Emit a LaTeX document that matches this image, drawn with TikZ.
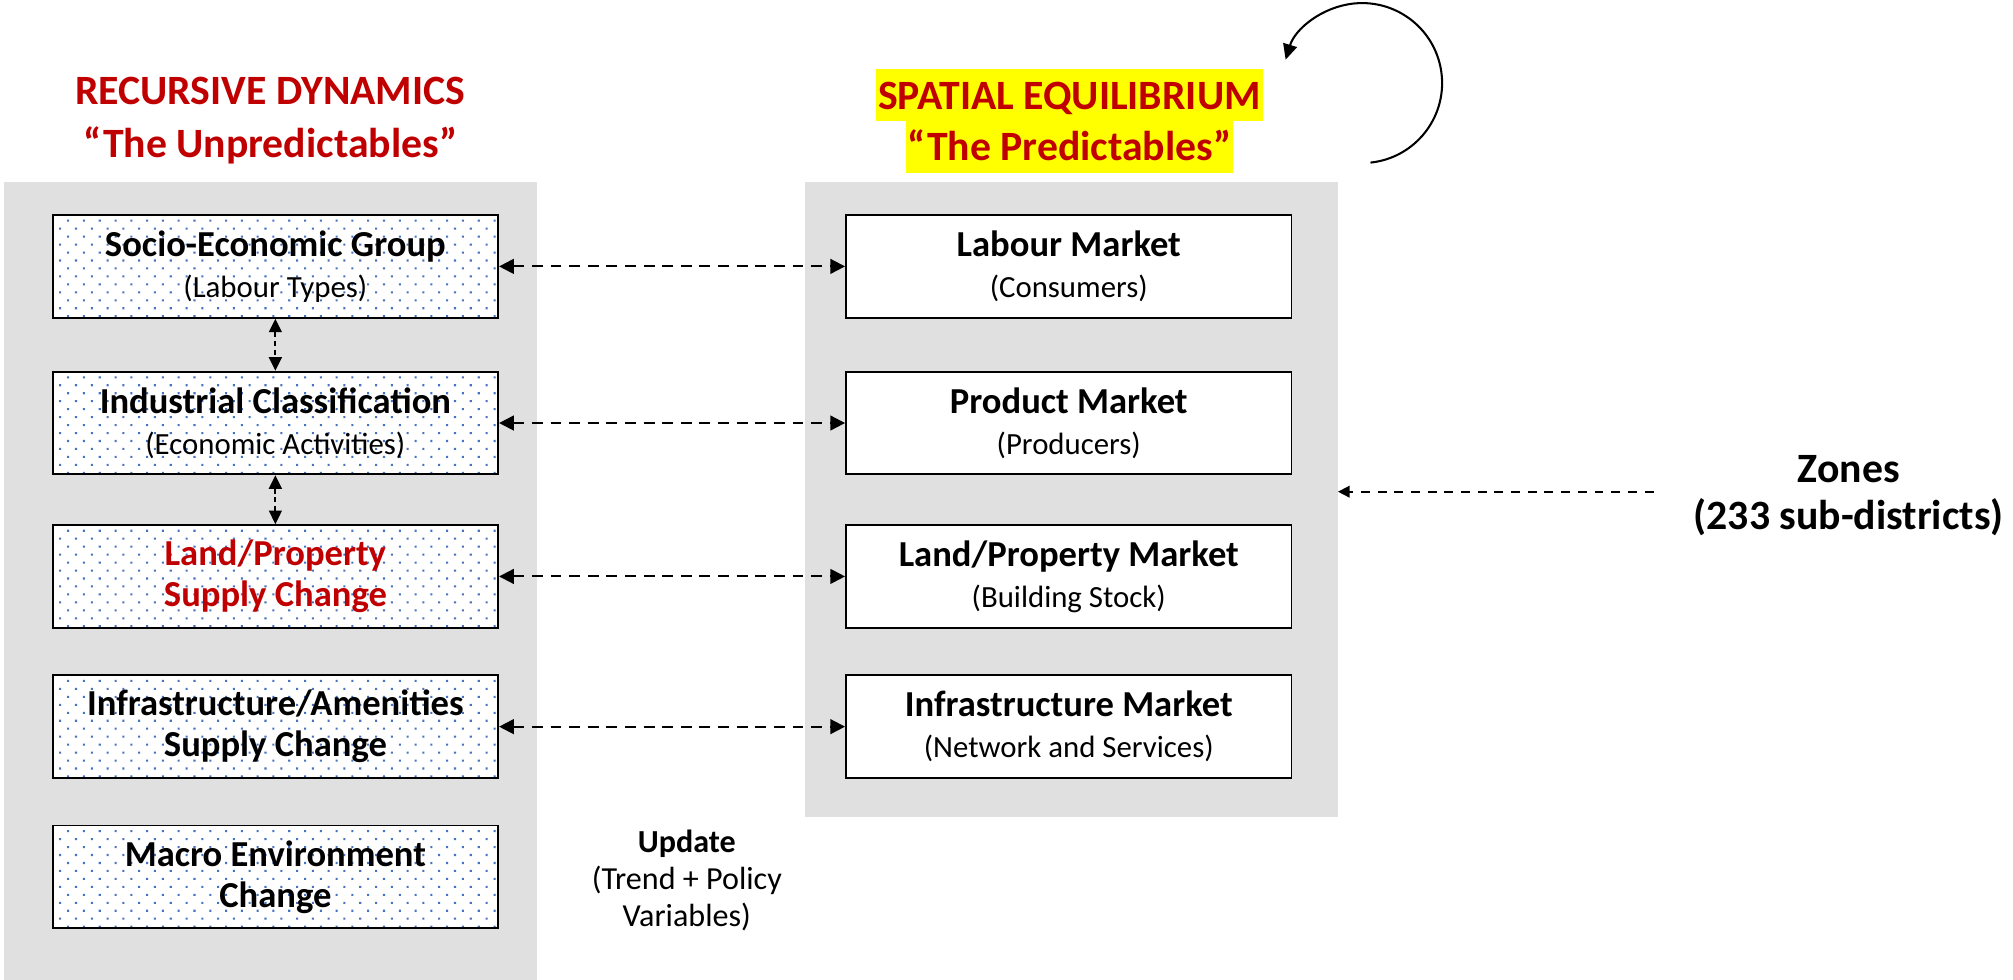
\documentclass[tikz,border=0pt]{standalone}
\usepackage{fontspec}
\setmainfont{Carlito}
\usetikzlibrary{arrows.meta,calc}

\definecolor{panelgray}{RGB}{224,224,224}
\definecolor{darkred}{RGB}{192,0,0}
\definecolor{dotblue}{RGB}{68,114,196}
\definecolor{hiliteyellow}{RGB}{255,255,0}

\newcommand{\bxtitle}[1]{{\bfseries\fontsize{28.5}{32}\selectfont #1}}

\tikzset{
  panel/.style={rectangle, fill=panelgray, draw=none, minimum width=415pt, inner sep=0pt},
  basebox/.style={rectangle, draw=black, line width=1.5pt, minimum width=347pt,
    minimum height=80pt, align=center, inner sep=0pt, fill=white,
    font=\fontsize{24}{32}\selectfont},
  % white box sprinkled with staggered rows of small blue dots
  dynbox/.style={basebox,
    path picture={
      \fill[dotblue]
        \foreach \j in {0,2,...,12} {
          \foreach \i in {0,...,28} {
            ([shift={(11.3+12.3*\i,3.6+6.2*\j)}]path picture bounding box.north west)
              rectangle ++(1.6,1.6)
          }
        }
        \foreach \j in {1,3,...,13} {
          \foreach \i in {0,...,28} {
            ([shift={(5.1+12.3*\i,3.6+6.2*\j)}]path picture bounding box.north west)
              rectangle ++(1.6,1.6)
          }
        };
    }},
  mktbox/.style={basebox},
  boldlines/.style={font=\bfseries\fontsize{28.5}{32}\selectfont},
  titletext/.style={inner sep=0pt, text=darkred, font=\bfseries\fontsize{32.5}{40}\selectfont},
  hilite/.style={fill=hiliteyellow, inner xsep=1.5pt, inner ysep=0pt,
    text height=31pt, text depth=9.5pt},
  link/.style={line width=1.6pt, dash pattern=on 8.5pt off 6pt,
    {Triangle[length=11.5pt,width=11.5pt]}-{Triangle[length=11.5pt,width=11.5pt]}},
  vlink/.style={line width=1.4pt, dash pattern=on 4pt off 3pt,
    {Triangle[length=10.5pt,width=10pt]}-{Triangle[length=10.5pt,width=10pt]}},
  zlink/.style={line width=1.3pt, dash pattern=on 7pt off 6pt,
    -{Triangle[length=9pt,width=9pt]}},
  looparrow/.style={line width=1.6pt, -{Triangle[length=12pt,width=11pt]}}
}

\begin{document}
\begin{tikzpicture}[x=1pt,y=-1pt]
\useasboundingbox (0,0) rectangle (1568,763);

% background panels
\node[panel, minimum height=621pt] (dynpanel) at (210.5,452.5) {};
\node[panel, minimum height=494pt] (eqpanel) at (834.5,389) {};

% headings
\node[titletext, anchor=base] (dyntitle) at (210.5,81.5) {RECURSIVE DYNAMICS};
\node[titletext, anchor=base] (dynsub) at (210.5,123) {“The Unpredictables”};
\node[titletext, hilite, anchor=base] (eqtitle) at (833,85) {SPATIAL EQUILIBRIUM};
\node[titletext, hilite, anchor=base] (eqsub) at (833,125) {“The Predictables”};

% recursive dynamics boxes
\node[dynbox] (seg) at (214.5,207.5) {\bxtitle{Socio-Economic Group}\\(Labour Types)};
\node[dynbox] (ind) at (214.5,329.5) {\bxtitle{Industrial Classification}\\(Economic Activities)};
\node[dynbox, boldlines, text=darkred] (lps) at (214.5,449) {Land/Property\\Supply Change};
\node[dynbox, boldlines] (ias) at (214.5,566) {Infrastructure/Amenities\\Supply Change};
\node[dynbox, boldlines] (mec) at (214.5,683) {Macro Environment\\Change};

% market boxes
\node[mktbox] (lab) at (832.5,207.5) {\bxtitle{Labour Market}\\(Consumers)};
\node[mktbox] (prod) at (832.5,329.5) {\bxtitle{Product Market}\\(Producers)};
\node[mktbox] (land) at (832.5,449) {\bxtitle{Land/Property Market}\\(Building Stock)};
\node[mktbox] (infra) at (832.5,566) {\bxtitle{Infrastructure Market}\\(Network and Services)};

% links between the two sides
\draw[link] (seg.east) -- (lab.west);
\draw[link] (ind.east) -- (prod.west);
\draw[link] (lps.east) -- (land.west);
\draw[link] (ias.east) -- (infra.west);

% links inside the dynamics column
\draw[vlink] (seg.south) -- (ind.north);
\draw[vlink] (ind.south) -- (lps.north);

% zones
\node[inner sep=0pt, align=center, font=\bfseries\fontsize{32.5}{36}\selectfont] (zones) at (1440,386) {Zones\\(233 sub-districts)};
\coordinate (zfrom) at (1288,383);
\draw[zlink] (zfrom) -- (zfrom -| eqpanel.east);

% update note
\node[inner sep=0pt, align=center, font=\fontsize{25}{29}\selectfont] (update) at (535,686) {\textbf{Update}\\(Trend + Policy\\Variables)};

% equilibrium loop
\coordinate (loopc) at (1061,64.7);
\draw[looparrow] ([shift={(-84:62.3pt)}]loopc) arc[start angle=-84, end angle=163, radius=62.3pt];
\end{tikzpicture}
\end{document}
